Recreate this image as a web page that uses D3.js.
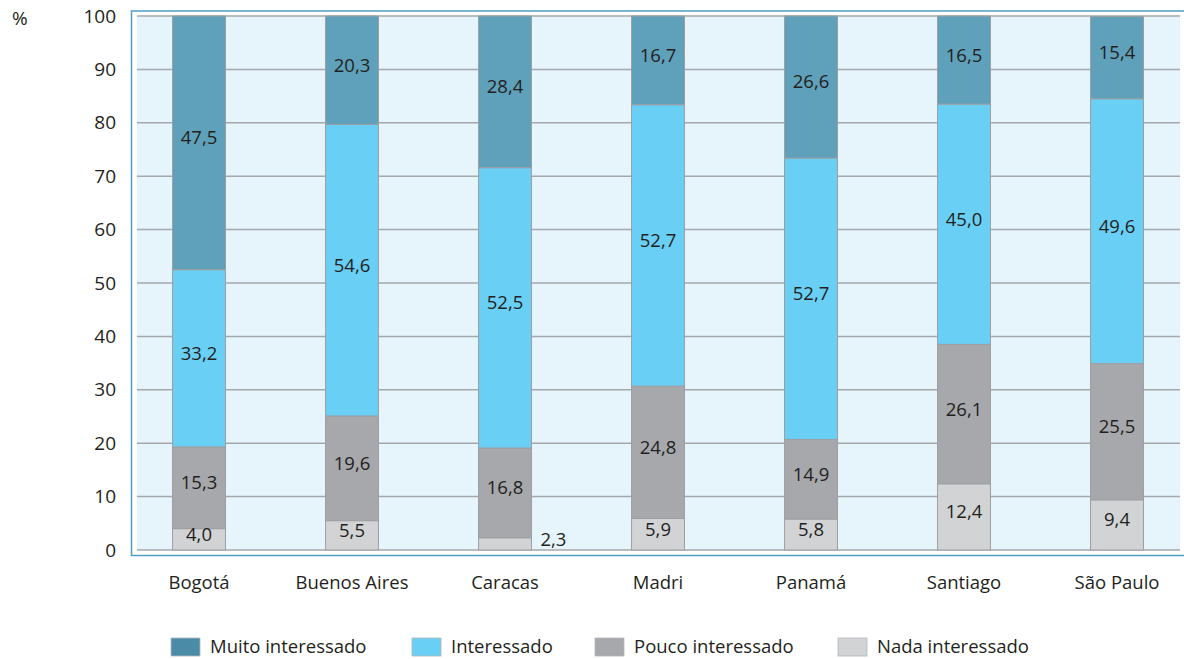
<!DOCTYPE html>
<html>
<head>
<meta charset="utf-8">
<script src="https://cdn.jsdelivr.net/npm/d3@7"></script>
<style>
  html, body { margin: 0; padding: 0; background: #ffffff; }
  svg { display: block; font-family: "Open Sans", "Noto Sans", sans-serif; }
</style>
</head>
<body>
<svg id="chart" width="1184" height="659"></svg>
<script>
// Interest levels by city (%)
const cities = ["Bogotá", "Buenos Aires", "Caracas", "Madri", "Panamá", "Santiago", "São Paulo"];
const nadaInteressado  = [4.0, 5.5, 2.3, 5.9, 5.8, 12.4, 9.4];
const poucoInteressado = [15.3, 19.6, 16.8, 24.8, 14.9, 26.1, 25.5];
const interessado      = [33.2, 54.6, 52.5, 52.7, 52.7, 45.0, 49.6];
const muitoInteressado = [47.5, 20.3, 28.4, 16.7, 26.6, 16.5, 15.4];
const seriesNames = ["Nada interessado", "Pouco interessado", "Interessado", "Muito interessado"];
const yTicks = [0, 10, 20, 30, 40, 50, 60, 70, 80, 90, 100];

const barColors = {
  "Muito interessado": "#5fa0bb",
  "Interessado": "#6acff5",
  "Pouco interessado": "#a7a8ab",
  "Nada interessado": "#d2d3d5"
};
const swatchColors = {
  "Muito interessado": "#4a8ca8",
  "Interessado": "#6acff5",
  "Pouco interessado": "#a7a8ab",
  "Nada interessado": "#d2d3d5"
};

const rows = cities.map((c, i) => ({
  city: c,
  "Nada interessado": nadaInteressado[i],
  "Pouco interessado": poucoInteressado[i],
  "Interessado": interessado[i],
  "Muito interessado": muitoInteressado[i]
}));

const svg = d3.select("#chart");
const textColor = "#231f20";
const fontSize = 18.5;

const plot = { left: 137, right: 1180, top: 16, bottom: 550 };

const x = d3.scaleBand().domain(cities).range([122.5, 1193.5]).paddingInner(0.654).paddingOuter(0.327);
const y = d3.scaleLinear().domain([0, 100]).range([plot.bottom, plot.top]);

// outer frame (runs past the right edge)
svg.append("rect")
  .attr("x", 131.5).attr("y", 11).attr("width", 1080).attr("height", 544.5)
  .attr("fill", "#ffffff").attr("stroke", "#4f9ec2").attr("stroke-width", 1.5);

// plot background
svg.append("rect")
  .attr("x", plot.left).attr("y", plot.top)
  .attr("width", plot.right - plot.left).attr("height", plot.bottom - plot.top)
  .attr("fill", "#e6f5fc");

// horizontal gridlines
svg.append("g").selectAll("line").data(yTicks).join("line")
  .attr("x1", plot.left).attr("x2", plot.right)
  .attr("y1", d => y(d)).attr("y2", d => y(d))
  .attr("stroke", "#a5a7aa").attr("stroke-width", 1.5);

// y axis labels
const yAxis = d3.axisLeft(y).tickValues(yTicks).tickSize(0).tickPadding(0).tickFormat(d3.format("d"));
svg.append("g").attr("transform", "translate(116,0)").call(yAxis)
  .call(g => g.select(".domain").remove())
  .call(g => g.selectAll("text").attr("font-size", 19).attr("fill", textColor)
    .attr("font-family", "'Open Sans', sans-serif"));

svg.append("text").attr("x", 12).attr("y", 25).attr("font-size", 19).attr("fill", textColor).text("%");

// stacked bars
const stack = d3.stack().keys(seriesNames);
const stacked = stack(rows);
const fmt = v => d3.format(".1f")(v).replace(".", ",");

const layers = svg.append("g").selectAll("g").data(stacked).join("g")
  .attr("fill", d => barColors[d.key]);

layers.selectAll("rect").data(d => d.map(s => ({ key: d.key, s }))).join("rect")
  .attr("x", d => x(d.s.data.city))
  .attr("width", x.bandwidth())
  .attr("y", d => y(Math.min(100, d.s[1])))
  .attr("height", d => y(d.s[0]) - y(Math.min(100, d.s[1])))
  .attr("stroke", "#9d9fa2").attr("stroke-width", 1);

// value labels
const labels = [];
stacked.forEach(layer => {
  layer.forEach(s => {
    const v = s.data[layer.key];
    const top = Math.min(100, s[1]);
    const cy = (y(s[0]) + y(top)) / 2;
    const small = v < 3;
    labels.push({
      text: fmt(v),
      x: small ? x(s.data.city) + x.bandwidth() + 9 : x(s.data.city) + x.bandwidth() / 2,
      y: small ? y(s[0]) - 10 : cy - 5,
      anchor: small ? "start" : "middle"
    });
  });
});

svg.append("g").selectAll("text").data(labels).join("text")
  .attr("x", d => d.x).attr("y", d => d.y).attr("dy", "0.35em")
  .attr("text-anchor", d => d.anchor)
  .attr("font-size", fontSize).attr("fill", textColor)
  .text(d => d.text);

// category labels
const xAxis = d3.axisBottom(x).tickSize(0).tickPadding(0);
svg.append("g").attr("transform", "translate(0,589)").call(xAxis)
  .call(g => g.select(".domain").remove())
  .call(g => g.selectAll("text").attr("font-size", fontSize).attr("fill", textColor)
    .attr("font-family", "'Open Sans', sans-serif").attr("dy", 0));

// legend
const legendItems = ["Muito interessado", "Interessado", "Pouco interessado", "Nada interessado"];
const legendX = [171, 412, 595, 838];
const legend = svg.append("g").selectAll("g").data(legendItems).join("g")
  .attr("transform", (d, i) => `translate(${legendX[i]},638)`);
legend.append("rect").attr("width", 29).attr("height", 18)
  .attr("fill", d => swatchColors[d]).attr("stroke", "#b5b7b9").attr("stroke-width", 0.8);
legend.append("text").attr("x", 39).attr("y", 9).attr("dy", "0.35em")
  .attr("font-size", fontSize).attr("fill", textColor).text(d => d);
</script>
</body>
</html>
